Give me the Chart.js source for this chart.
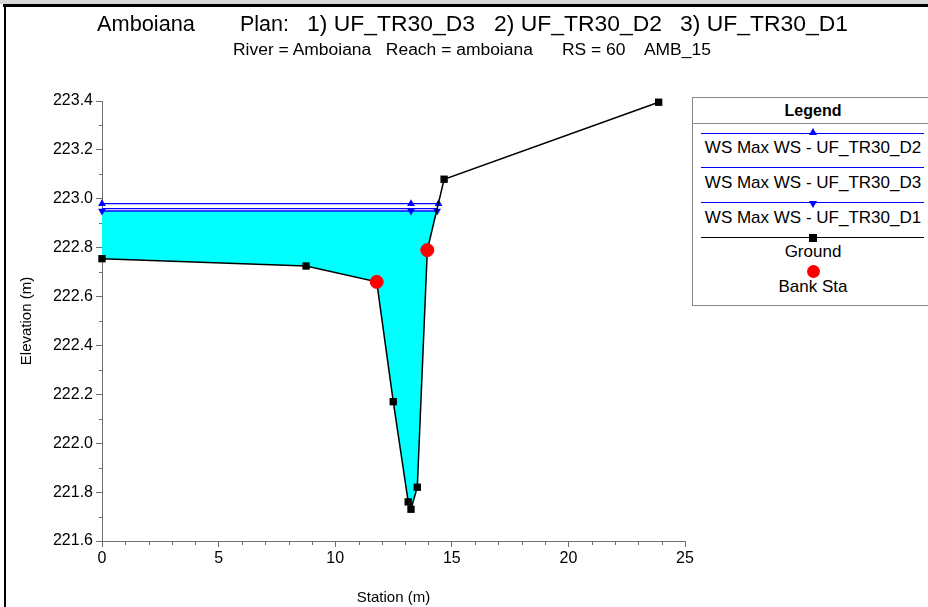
<!DOCTYPE html>
<html>
<head>
<meta charset="utf-8">
<script src="https://cdn.jsdelivr.net/npm/chart.js@4.4.1/dist/chart.umd.min.js"></script>
<style>
body { margin: 0; width: 928px; height: 607px; overflow: hidden; background: #fff; position: relative;
       font-family: "Liberation Sans", Arial, sans-serif; color: #000; }
#wrap { position: absolute; left: 0; top: 0; width: 928px; height: 607px; }
.txt { position: absolute; white-space: pre; transform-origin: left center; line-height: 22px; height: 22px;
       font-family: "Liberation Sans Narrow", "Liberation Sans", Arial, sans-serif; }
.t1 { font-size: 22px; }
.t2 { font-size: 16px; }
#frameTop { position: absolute; left: 0; top: 0; width: 928px; height: 4px; background: #d8d8d8; }
#frameTop2 { position: absolute; left: 3px; top: 4px; width: 925px; height: 3px; background: #000; }
#frameLeft { position: absolute; left: 4px; top: 4px; width: 2px; height: 603px; background: #000; }
#legend { position: absolute; left: 692px; top: 97px; width: 260px; height: 207px; border: 1px solid #888; background: #fff; }
#legend .head { position: absolute; left: 0; top: 0; width: 240px; height: 25px; line-height: 25px; text-align: center;
                font-weight: bold; font-size: 16px; border-bottom: 1px solid #888; }
#legend .ln { position: absolute; left: 8px; width: 223px; height: 0; border-top: 1px solid; }
#legend .lab { position: absolute; left: 0; width: 240px; text-align: center; font-size: 17px; line-height: 20px; white-space: pre; }
.mk { position: absolute; }
</style>
</head>
<body>
<div id="wrap"><canvas id="chart" width="928" height="607"></canvas></div>
<div id="frameTop"></div><div id="frameTop2"></div><div id="frameLeft"></div>

<div class="txt t1" style="left:97px;top:13px" data-w="98">Amboiana</div>
<div class="txt t1" style="left:240px;top:13px" data-w="49">Plan:</div>
<div class="txt t1" style="left:307px;top:13px" data-w="168">1) UF_TR30_D3</div>
<div class="txt t1" style="left:494px;top:13px" data-w="168">2) UF_TR30_D2</div>
<div class="txt t1" style="left:680px;top:13px" data-w="168">3) UF_TR30_D1</div>
<div class="txt t2" style="left:233px;top:39px" data-w="478">River = Amboiana   Reach = amboiana      RS = 60    AMB_15</div>

<div id="legend"></div>

<script>
// cross section at RS 60
const groundStation = [0, 8.75, 11.78, 12.49, 13.13, 13.25, 13.52, 13.95, 14.67, 23.87];
const groundElev = [222.755, 222.725, 222.66, 222.17, 221.76, 221.73, 221.82, 222.79, 223.08, 223.395];
const bankStation = [11.78, 13.95];
const bankElev = [222.66, 222.79];

// water surfaces (3 plans)
const wsD2Station = [0, 13.25, 14.43];
const wsD2Elev = [222.98, 222.98, 222.98];
const wsD3Station = [0, 14.39];
const wsD3Elev = [222.96, 222.96];
const wsD1Station = [0, 13.25, 14.37];
const wsD1Elev = [222.95, 222.95, 222.95];
const wetEdge = 14.36;

const xTicks = [0, 5, 10, 15, 20, 25];
const yTicks = [221.6, 221.8, 222.0, 222.2, 222.4, 222.6, 222.8, 223.0, 223.2, 223.4];

const axisColor = '#6e6e6e';
const wsBlue = '#0000ff';

function pts(xs, ys) {
    return xs.map((x, i) => ({x: x, y: ys[i]}));
}

// wetted area: water surface down to the ground, back to station 0
let wet = pts(groundStation, groundElev).filter(p => p.x < wetEdge).reverse();
let fillPts = [{x: 0, y: wsD1Elev[0]}, {x: wetEdge, y: wsD1Elev[0]}].concat(wet);

// short ticks between the labelled ones
const minorTicks = {
    id: 'minorTicks',
    afterDraw(chart) {
        const ctx = chart.ctx;
        const xs = chart.scales.x, ys = chart.scales.y;
        ctx.save();
        ctx.strokeStyle = axisColor;
        ctx.lineWidth = 1;
        ctx.beginPath();
        for (let i = 0; i < yTicks.length - 1; i++) {
            let p = Math.round(ys.getPixelForValue((yTicks[i] + yTicks[i + 1]) / 2)) + 0.5;
            ctx.moveTo(xs.left - 3, p);
            ctx.lineTo(xs.left, p);
        }
        for (let i = 0; i < xTicks.length - 1; i++) {
            for (let k = 1; k < 5; k++) {
                let v = xTicks[i] + (xTicks[i + 1] - xTicks[i]) * k / 5;
                let p = Math.round(xs.getPixelForValue(v)) + 0.5;
                ctx.moveTo(p, ys.bottom);
                ctx.lineTo(p, ys.bottom + 4);
            }
        }
        ctx.stroke();
        ctx.restore();
    }
};

Chart.defaults.font.family = '"Liberation Sans", Arial, sans-serif';
Chart.defaults.color = '#000';

var ctx = document.getElementById('chart').getContext('2d');
var chart = new Chart(ctx, {
    type: 'scatter',
    data: {
        datasets: [
            {
                label: 'Bank Sta',
                data: pts(bankStation, bankElev),
                pointStyle: 'circle',
                pointRadius: 6.5,
                backgroundColor: '#ff0000',
                borderColor: '#ff0000',
                showLine: false,
                clip: false,
                order: 0
            },
            {
                label: 'Ground',
                data: pts(groundStation, groundElev),
                showLine: true,
                borderColor: '#000',
                borderWidth: 1.5,
                backgroundColor: '#000',
                pointStyle: 'rect',
                pointRadius: 5.2,
                pointBorderWidth: 0,
                clip: false,
                order: 1
            },
            {
                label: 'WS Max WS - UF_TR30_D2',
                data: pts(wsD2Station, wsD2Elev),
                showLine: true,
                borderColor: wsBlue,
                borderWidth: 1.3,
                backgroundColor: wsBlue,
                pointStyle: 'triangle',
                pointRadius: 4.5,
                pointBorderWidth: 0,
                clip: false,
                order: 2
            },
            {
                label: 'WS Max WS - UF_TR30_D3',
                data: pts(wsD3Station, wsD3Elev),
                showLine: true,
                borderColor: wsBlue,
                borderWidth: 1.3,
                pointRadius: 0,
                clip: false,
                order: 3
            },
            {
                label: 'WS Max WS - UF_TR30_D1',
                data: pts(wsD1Station, wsD1Elev),
                showLine: true,
                borderColor: wsBlue,
                borderWidth: 1.3,
                backgroundColor: wsBlue,
                pointStyle: 'triangle',
                pointRotation: 180,
                pointRadius: 4.5,
                pointBorderWidth: 0,
                clip: false,
                order: 4
            },
            {
                label: 'wet',
                data: fillPts,
                showLine: true,
                borderWidth: 0,
                borderColor: 'rgba(0,0,0,0)',
                backgroundColor: '#00ffff',
                fill: 'shape',
                pointRadius: 0,
                order: 5
            }
        ]
    },
    options: {
        responsive: false,
        devicePixelRatio: 1,
        animation: false,
        events: [],
        layout: { padding: { left: 0, top: 101, right: 243, bottom: 0 } },
        plugins: { legend: { display: false }, tooltip: { enabled: false } },
        scales: {
            x: {
                type: 'linear',
                min: 0, max: 25,
                afterFit: s => { s.height = 66; },
                afterBuildTicks: s => { s.ticks = xTicks.map(v => ({value: v})); },
                grid: { drawOnChartArea: false, tickLength: 6, color: axisColor },
                border: { color: axisColor },
                ticks: { font: { size: 16 }, padding: 2, maxRotation: 0 },
                title: { display: true, text: 'Station (m)', font: { size: 15 }, padding: { top: 4, bottom: 0 } }
            },
            y: {
                type: 'linear',
                min: 221.6, max: 223.4,
                afterFit: s => { s.width = 102; },
                afterBuildTicks: s => { s.ticks = yTicks.map(v => ({value: v})); },
                grid: { drawOnChartArea: false, tickLength: 6, color: axisColor },
                border: { color: axisColor },
                ticks: { font: { size: 16 }, padding: 3, callback: v => v.toFixed(1) },
                title: { display: true, text: 'Elevation (m)', font: { size: 15 }, padding: { top: 18, bottom: 0 } }
            }
        }
    },
    plugins: [minorTicks]
});

// legend box
function legendEntry(box, lineY, textY, color, marker, text) {
    if (color) {
        let ln = document.createElement('div');
        ln.className = 'ln';
        ln.style.top = (lineY - 98) + 'px';
        ln.style.borderColor = color;
        box.appendChild(ln);
    }
    let mk = document.createElement('div');
    mk.className = 'mk';
    let cx = 120, cy = lineY - 98;
    if (marker === 'up') {
        mk.style.cssText += `left:${cx - 4}px;top:${cy - 5}px;width:0;height:0;border-left:4px solid transparent;border-right:4px solid transparent;border-bottom:7px solid ${wsBlue};`;
    } else if (marker === 'down') {
        mk.style.cssText += `left:${cx - 4}px;top:${cy - 1}px;width:0;height:0;border-left:4px solid transparent;border-right:4px solid transparent;border-top:7px solid ${wsBlue};`;
    } else if (marker === 'rect') {
        mk.style.cssText += `left:${cx - 4}px;top:${cy - 3}px;width:8px;height:8px;background:#000;`;
    } else if (marker === 'dot') {
        mk.style.cssText += `left:${cx - 6}px;top:${cy - 6}px;width:13px;height:13px;border-radius:50%;background:#ff0000;`;
    }
    if (marker) box.appendChild(mk);
    let lab = document.createElement('div');
    lab.className = 'lab';
    lab.style.top = (textY - 98 - 10) + 'px';
    lab.textContent = text;
    box.appendChild(lab);
}
var box = document.getElementById('legend');
var head = document.createElement('div');
head.className = 'head';
head.textContent = 'Legend';
box.appendChild(head);
legendEntry(box, 133, 148, wsBlue, 'up', 'WS Max WS - UF_TR30_D2');
legendEntry(box, 167, 183, wsBlue, null, 'WS Max WS - UF_TR30_D3');
legendEntry(box, 202, 218, wsBlue, 'down', 'WS Max WS - UF_TR30_D1');
legendEntry(box, 237, 252, '#000', 'rect', 'Ground');
legendEntry(box, 271, 287, null, 'dot', 'Bank Sta');

// stretch header texts to the widths of the original
document.querySelectorAll('.txt').forEach(el => {
    let w = el.getBoundingClientRect().width;
    let target = parseFloat(el.dataset.w);
    el.style.transform = 'scaleX(' + (target / w).toFixed(3) + ')';
});
</script>
</body>
</html>
